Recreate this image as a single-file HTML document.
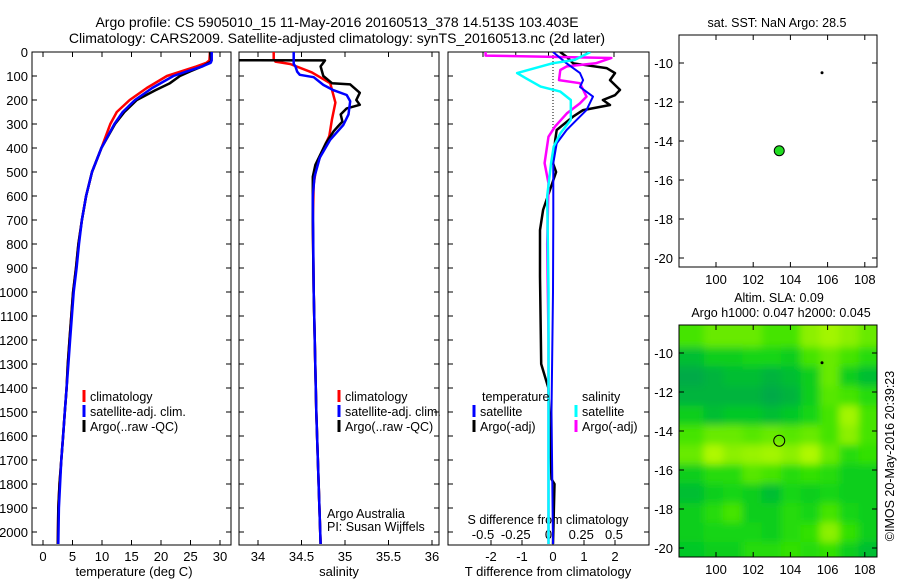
<!DOCTYPE html>
<html><head><meta charset="utf-8"><style>
html,body{margin:0;padding:0;background:#fff}
svg{display:block;font-family:"Liberation Sans",sans-serif}
text{fill:#000}
</style></head><body>
<svg id="s" width="900" height="580" viewBox="0 0 900 580" xmlns="http://www.w3.org/2000/svg">
<text x="337" y="27" font-size="14" text-anchor="middle">Argo profile: CS 5905010_15 11-May-2016 20160513_378 14.513S 103.403E</text>
<text x="337" y="43" font-size="14" text-anchor="middle">Climatology: CARS2009. Satellite-adjusted climatology: synTS_20160513.nc (2d later)</text>
<g id="g"></g>
</svg>
<script>
// ---------- data ----------
const depthTicks=[0,100,200,300,400,500,600,700,800,900,1000,1100,1200,1300,1400,1500,1600,1700,1800,1900,2000];
const tempTicks=[0,5,10,15,20,25,30];
const salTicks=[34,34.5,35,35.5,36];
const salTickLabels=["34","34.5","35","35.5","36"];
const tdTicks=[-2,-1,0,1,2];
const sdTicks=[-0.5,-0.25,0,0.25,0.5];
const sdTickLabels=["-0.5","-0.25","0","0.25","0.5"];

const tClimD=[0,35,45,60,80,100,150,200,250,300,400,500,600,700,800,900,1000,1100,1200,1300,1400,1500,1600,1700,1800,1900,2050];
const tClimV=[28.3,28.2,27.7,26.0,23.5,21.0,17.6,14.7,12.5,11.4,9.9,8.3,7.3,6.6,6.0,5.6,5.1,4.8,4.5,4.2,4.0,3.7,3.4,3.1,2.8,2.6,2.5];
const tSatD=[0,35,45,60,80,100,150,200,250,300,400,500,600,700,800,900,1000,1100,1200,1300,1400,1500,1600,1700,1800,1900,2050];
const tSatV=[28.6,28.6,28.4,27.0,24.5,22.1,18.5,15.6,13.5,12.1,9.9,8.3,7.3,6.6,6.1,5.7,5.2,4.9,4.6,4.3,4.0,3.7,3.4,3.1,2.9,2.7,2.6];
const tArgoD=[0,40,60,80,100,130,160,200,250,300,400,500,600,700,800,900,1000,1100,1200,1300,1400,1500,1600,1700,1800,1900,2050];
const tArgoV=[28.3,28.5,27.0,25.0,23.2,21.5,19.0,15.9,13.8,12.2,9.9,8.3,7.3,6.6,6.0,5.6,5.1,4.8,4.5,4.2,4.0,3.7,3.4,3.1,2.8,2.6,2.5];

const sClimD=[0,29,40,50,85,130,211,280,350,420,480,550,700,1000,1500,2050];
const sClimV=[34.18,34.18,34.2,34.37,34.62,34.83,34.89,34.85,34.82,34.73,34.67,34.64,34.63,34.64,34.67,34.72];
const sSatD=[0,50,60,82,95,105,137,158,179,205,260,304,366,440,520,600,1000,1500,2050];
const sSatV=[34.41,34.41,34.43,34.45,34.48,34.64,34.75,34.86,35.02,35.06,35.04,34.98,34.83,34.71,34.65,34.63,34.64,34.67,34.72];
const sArgoD=[32,34,35,45,60,100,130,135,170,200,220,235,260,290,310,330,380,440,470,520,600,700,1000,1500,2050];
const sArgoV=[33.6,33.6,34.77,34.75,34.72,34.75,34.85,35.06,35.17,35.13,35.17,35.02,34.95,34.97,34.92,34.87,34.78,34.7,34.66,34.63,34.63,34.63,34.64,34.67,34.72];

const dTArgoD=[0,20,47,67,88,117,158,180,200,221,242,269,325,367,463,500,658,742,935,1300,1400,1780,1800,2050];
const dTArgoV=[0.23,0.44,0.65,1.73,2.0,1.84,2.16,2.0,1.61,1.84,0.97,0.65,0.12,0.07,0,0.1,-0.32,-0.42,-0.42,-0.38,-0.15,-0.05,0.05,0];
const dTSatD=[0,47,88,117,146,186,242,283,325,381,463,686,1000,1500,2050];
const dTSatV=[0,0.44,0.87,0.97,0.87,1.29,1.08,0.76,0.44,0.12,0.01,0.01,0,-0.05,0];
const dSArgoD=[0,15,25,47,60,75,117,130,186,214,256,311,353,463,547,800,1200,1600,2050];
const dSArgoV=[-0.48,-0.48,0.48,0.36,0.14,0.09,0.08,0.24,0.29,0.24,0.14,0.05,0,-0.03,0,-0.01,0,0,0];
const dSSatD=[0,33,47,88,110,144,165,200,283,339,394,463,600,1000,1500,2050];
const dSSatV=[0.32,0.2,0.03,-0.24,-0.17,-0.06,0.09,0.17,0.17,0.09,0.04,0.02,-0.01,0,0,0];

const lonTicks=[100,102,104,106,108];
const latTicks=[-10,-12,-14,-16,-18,-20];
const argoLon=[103.4], argoLat=[-14.5];
const markLon=[105.7], markLat=[-10.5];
const slaLon=[98.3,99.34,100.38,101.42,102.46,103.5,104.54,105.58,106.62,107.66];
const slaLat=[-8.7,-9.7,-10.7,-11.7,-12.7,-13.7,-14.7,-15.7,-16.7,-17.7,-18.7,-19.7];
const slaVals=[
[0.5,0.6,0.6,0.6,0.5,0.5,0.7,0.8,0.7,0.6],
[0.2,0.3,0.3,0.35,0.35,0.3,0.5,0.6,0.5,0.4],
[0.1,0.15,0.2,0.2,0.15,0.2,0.3,0.6,0.3,0.2],
[0.15,0.15,0.15,0.15,0.1,0.15,0.3,0.55,0.5,0.4],
[0.3,0.2,0.25,0.25,0.2,0.25,0.35,0.5,0.8,0.5],
[0.5,0.6,0.6,0.55,0.6,0.55,0.6,0.5,0.7,0.5],
[0.6,0.85,0.7,0.75,0.8,0.7,0.85,0.6,0.4,0.45],
[0.3,0.4,0.4,0.55,0.5,0.4,0.45,0.4,0.3,0.3],
[0.2,0.3,0.35,0.3,0.2,0.35,0.3,0.35,0.3,0.3],
[0.3,0.4,0.5,0.3,0.3,0.4,0.35,0.5,0.35,0.3],
[0.3,0.35,0.35,0.35,0.3,0.4,0.45,0.7,0.45,0.3],
[0.25,0.3,0.3,0.4,0.4,0.45,0.4,0.45,0.3,0.2]];

// ---------- helpers ----------
const NS="http://www.w3.org/2000/svg";
const G=document.getElementById('g');
function mk(tag,at,parent){const e=document.createElementNS(NS,tag);for(const k in at)e.setAttribute(k,at[k]);(parent||G).appendChild(e);return e;}
function txt(x,y,s,size,anchor,parent){const t=mk('text',{x:x,y:y,'font-size':size,'text-anchor':anchor||'start'},parent);t.textContent=s;return t;}
const TOP=52,BOT=545;
const yD=d=>TOP+0.24*d;
const xT=t=>43+5.9*t;
const xS=s=>258+87*(s-34);
const xDT=v=>553+31*v;
const xDS=v=>548.5+131*v;

const panels=[{x0:32,x1:231,id:'c1'},{x0:239,x1:439,id:'c2'},{x0:448,x1:649,id:'c3'}];
const defs=mk('defs',{});
panels.forEach(p=>{const c=mk('clipPath',{id:p.id},defs);mk('rect',{x:p.x0,y:TOP,width:p.x1-p.x0,height:BOT-TOP},c);});
const mc=mk('clipPath',{id:'mapclip'},defs);mk('rect',{x:679,y:325,width:198,height:232},mc);
const fl=mk('filter',{id:'blur',x:'-5%',y:'-5%',width:'110%',height:'110%'},defs);mk('feGaussianBlur',{stdDeviation:4},fl);

function frame(p,name){
  const r=mk('rect',{x:p.x0,y:TOP,width:p.x1-p.x0,height:BOT-TOP,fill:'none',stroke:'#000','stroke-width':1});
  
  
  depthTicks.forEach(d=>{const y=yD(d);
    mk('line',{x1:p.x0,x2:p.x0+5,y1:y,y2:y,stroke:'#000'});
    mk('line',{x1:p.x1-5,x2:p.x1,y1:y,y2:y,stroke:'#000'});});
}
function xticks(vals,fx,labels,ly,name,top){
  const g=mk('g',{});
  
  
  vals.forEach((v,i)=>{const x=fx(v);
    mk('line',{x1:x,x2:x,y1:BOT,y2:BOT-5,stroke:'#000'},g);
    if(top!==false)mk('line',{x1:x,x2:x,y1:TOP,y2:TOP+5,stroke:'#000'},g);
    if(ly)txt(x,ly,labels?labels[i]:String(v),13,'middle',g);});
}
function series(ds,vs,fx,color,clip,name,w){
  const pts=ds.map((d,i)=>fx(vs[i]).toFixed(1)+','+yD(d).toFixed(1)).join(' ');
  const l=mk('polyline',{points:pts,fill:'none',stroke:color,'stroke-width':w||2.5,'clip-path':'url(#'+clip+')','stroke-linejoin':'round'});
  
  
}
function legend(x,y,color,label,name){
  const g=mk('g',{});
  
  
  mk('line',{x1:x,x2:x,y1:y-11,y2:y+1,stroke:color,'stroke-width':3},g);
  txt(x+6,y,label,12.5,'start',g);
}

// depth labels
const yl=mk('g',{});


depthTicks.forEach(d=>txt(28,yD(d)+5,String(d),13,'end',yl));

// panel 1
frame(panels[0],'temperature-panel');
xticks(tempTicks,xT,null,561,'temperature-x-axis');
txt(134,576,'temperature (deg C)',13,'middle');
series(tClimD,tClimV,xT,'#ff0000','c1','temp-climatology-line');
series(tArgoD,tArgoV,xT,'#000000','c1','temp-argo-line');
series(tSatD,tSatV,xT,'#0000ff','c1','temp-satellite-line');
legend(84,401,'#ff0000','climatology','legend-climatology');
legend(84,416,'#0000ff','satellite-adj. clim.','legend-satellite');
legend(84,431,'#000','Argo(..raw -QC)','legend-argo');

// panel 2
frame(panels[1],'salinity-panel');
xticks(salTicks,xS,salTickLabels,561,'salinity-x-axis');
txt(339,576,'salinity',13,'middle');
series(sClimD,sClimV,xS,'#ff0000','c2','sal-climatology-line');
series(sArgoD,sArgoV,xS,'#000000','c2','sal-argo-line');
series(sSatD,sSatV,xS,'#0000ff','c2','sal-satellite-line');
legend(339,401,'#ff0000','climatology','legend-climatology-2');
legend(339,416,'#0000ff','satellite-adj. clim.','legend-satellite-2');
legend(339,431,'#000','Argo(..raw -QC)','legend-argo-2');
txt(327,518,'Argo Australia',12.5);
txt(327,531,'PI: Susan Wijffels',12.5);

// panel 3
frame(panels[2],'difference-panel');
xticks(tdTicks,xDT,null,561,'t-diff-x-axis',false);
const st=mk('g',{});


sdTicks.forEach(v=>mk('line',{x1:xDS(v),x2:xDS(v),y1:TOP,y2:TOP+5,stroke:'#000'},st));
const sl=mk('g',{});


sdTicks.forEach((v,i)=>txt(xDS(v),539,sdTickLabels[i],13,'middle',sl));
txt(548,524,'S difference from climatology',12.5,'middle');
txt(548,576,'T difference from climatology',13,'middle');
mk('line',{x1:xDT(0),x2:xDT(0),y1:TOP,y2:130,stroke:'#000','stroke-dasharray':'1,2'});
series(dTArgoD,dTArgoV,xDT,'#000000','c3','tdiff-argo-line');
series(dSArgoD,dSArgoV,xDS,'#ff00ff','c3','sdiff-argo-line');
series(dTSatD,dTSatV,xDT,'#0000ff','c3','tdiff-satellite-line',2);
series(dSSatD,dSSatV,xDS,'#00ffff','c3','sdiff-satellite-line');
txt(482,401,'temperature',12.5);
txt(582,401,'salinity',12.5);
legend(474,416,'#0000ff','satellite','legend-t-satellite');
legend(474,431,'#000','Argo(-adj)','legend-t-argo');
legend(576,416,'#00ffff','satellite','legend-s-satellite');
legend(576,431,'#ff00ff','Argo(-adj)','legend-s-argo');

// maps
function mapFrame(y0,y1,name){
  const lonX=v=>716+(v-100)*18.6;
  const latY=v=>(y0+28)+(-10-v)*19.5;
  return {lonX,latY,draw:()=>{
    const r=mk('rect',{x:679,y:y0,width:198,height:y1-y0,fill:'none',stroke:'#000'});
    
    
    lonTicks.forEach(v=>{const x=lonX(v);
      mk('line',{x1:x,x2:x,y1:y1,y2:y1-5,stroke:'#000'});
      mk('line',{x1:x,x2:x,y1:y0,y2:y0+5,stroke:'#000'});
      txt(x,y1+17,String(v),13,'middle');});
    latTicks.forEach(v=>{const y=latY(v);
      mk('line',{x1:679,x2:684,y1:y,y2:y,stroke:'#000'});
      mk('line',{x1:872,x2:877,y1:y,y2:y,stroke:'#000'});
      txt(673,y+5,String(v),13,'end');});
  }};
}
// map 1
txt(777,27,'sat. SST: NaN Argo: 28.5',12.5,'middle');
const m1=mapFrame(35,267,'sst-map');
m1.draw();
argoLon.forEach((v,i)=>{const c=mk('circle',{cx:m1.lonX(v),cy:m1.latY(argoLat[i]),r:5,fill:'#22dd22',stroke:'#000'});
  
  });
markLon.forEach((v,i)=>{const c=mk('circle',{cx:m1.lonX(v),cy:m1.latY(markLat[i]),r:1.5,fill:'#000'});
  
  });

// map 2
txt(779,302,'Altim. SLA: 0.09',12.5,'middle');
txt(781,317,'Argo h1000: 0.047 h2000: 0.045',12.5,'middle');
const m2=mapFrame(325,557,'sla-map');
const stops=[[0,[0,150,90]],[0.25,[0,200,40]],[0.45,[50,225,0]],[0.7,[140,240,0]],[1,[210,255,0]]];
function cmap(v){for(let i=1;i<stops.length;i++){if(v<=stops[i][0]){const a=stops[i-1],b=stops[i],t=(v-a[0])/(b[0]-a[0]);
  return 'rgb('+a[1].map((c,k)=>Math.round(c+(b[1][k]-c)*t)).join(',')+')';}}return 'rgb(210,255,0)';}
const hmc=mk('g',{'clip-path':'url(#mapclip)'});
const hm=mk('g',{filter:'url(#blur)'},hmc);


slaLat.forEach((la,r)=>slaLon.forEach((lo,c)=>{
  let x0=m2.lonX(lo),x1=m2.lonX(lo+1.04),y0=m2.latY(la),y1=m2.latY(la-1);
  if(c===0)x0-=15; if(c===slaLon.length-1)x1+=15; if(r===0)y0-=15; if(r===slaLat.length-1)y1+=15;
  const cell=mk('rect',{x:x0,y:y0,width:x1-x0+0.5,height:y1-y0+0.5,fill:cmap(slaVals[r][c])},hm);
  
  
}));
m2.draw();
argoLon.forEach((v,i)=>{const c=mk('circle',{cx:m2.lonX(v),cy:m2.latY(argoLat[i]),r:5.5,fill:'none',stroke:'#000'});
  
  });
markLon.forEach((v,i)=>{const c=mk('circle',{cx:m2.lonX(v),cy:m2.latY(markLat[i]),r:1.5,fill:'#000'});
  
  });
const cr=txt(0,0,'©IMOS 20-May-2016 20:39:23',12.5,'middle');
cr.setAttribute('transform','translate(894,456) rotate(-90)');

</script>
</body></html>
